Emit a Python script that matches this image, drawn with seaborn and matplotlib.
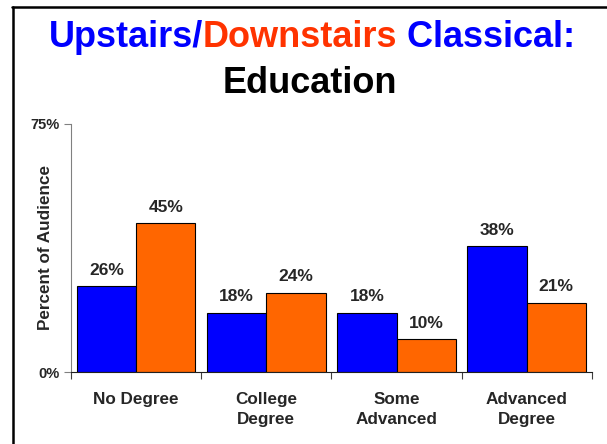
import pandas as pd
import matplotlib.pyplot as plt
import seaborn as sns
from matplotlib.lines import Line2D

# Chart values
categories = ['No Degree', 'College\nDegree', 'Some\nAdvanced', 'Advanced\nDegree']
series = ['Upstairs', 'Downstairs']
upstairs = [26, 18, 18, 38]
downstairs = [45, 24, 10, 21]
colors = ['#0000FF', '#FF6600']

data = pd.DataFrame({
    'Education': categories * 2,
    'Venue': [series[0]] * len(categories) + [series[1]] * len(categories),
    'Percent': upstairs + downstairs,
})

sns.set_style('white')
plt.rcParams['font.family'] = ['Liberation Sans', 'DejaVu Sans']

fig = plt.figure(figsize=(6.07, 4.44), dpi=100)
ax = fig.add_axes([0.117, 0.162, 0.858, 0.559])

sns.barplot(data=data, x='Education', y='Percent', hue='Venue', hue_order=series,
            palette=colors, saturation=1, width=0.91, edgecolor='black',
            linewidth=0.8, legend=False, ax=ax)

for cont in ax.containers:
    ax.bar_label(cont, fmt='%d%%', padding=6, fontsize=12.5, fontweight='bold')

ax.set_ylim(0, 75)
ax.set_xlim(-0.5, len(categories) - 0.5)
ax.set_yticks([0, 75])
ax.set_yticklabels(['0%', '75%'], fontsize=10.5, fontweight='bold')
ax.tick_params(axis='y', left=True, length=5, width=0.8, pad=3, color='#808080')

# category labels centred, tick marks at group boundaries
ax.set_xticks(range(len(categories)))
ax.set_xticklabels(categories, fontsize=12.3, fontweight='bold', linespacing=1.45)
ax.tick_params(axis='x', which='major', length=0, pad=14)
ax.set_xticks([i - 0.5 for i in range(len(categories) + 1)], minor=True)
ax.tick_params(axis='x', which='minor', bottom=True, length=5, width=0.8, color='#404040')

ax.set_xlabel('')
ax.set_ylabel('Percent of Audience', fontsize=12.3, fontweight='bold')
ax.yaxis.set_label_coords(-0.035, 0.5)

for side in ['top', 'right']:
    ax.spines[side].set_visible(False)
ax.spines['left'].set_color('#808080')
ax.spines['left'].set_linewidth(0.8)
ax.spines['bottom'].set_color('#202020')
ax.spines['bottom'].set_linewidth(0.8)

# multi-coloured title
pieces = [('Upstairs/', '#0000FF'), ('Downstairs', '#FF3300'), (' Classical:', '#0000FF')]
fig.canvas.draw()
renderer = fig.canvas.get_renderer()
texts = []
widths = []
for s, c in pieces:
    t = fig.text(0, 1 - 47 / 444, s, color=c, fontsize=26, fontweight='bold', va='baseline')
    texts.append(t)
    widths.append(t.get_window_extent(renderer).width)
total = sum(widths)
x = 312 - total / 2
for t, w in zip(texts, widths):
    t.set_x(x / 607)
    x += w
fig.text(310 / 607, 1 - 93 / 444, 'Education', fontsize=26, fontweight='bold',
         color='black', ha='center', va='baseline')

# border lines
fig.add_artist(Line2D([13 / 607, 13 / 607], [0, 1 - 7 / 444], transform=fig.transFigure,
                      color='black', lw=1.8))
fig.add_artist(Line2D([12 / 607, 1], [1 - 7 / 444, 1 - 7 / 444], transform=fig.transFigure,
                      color='black', lw=1.8))

fig.savefig('out.png', dpi=100)
